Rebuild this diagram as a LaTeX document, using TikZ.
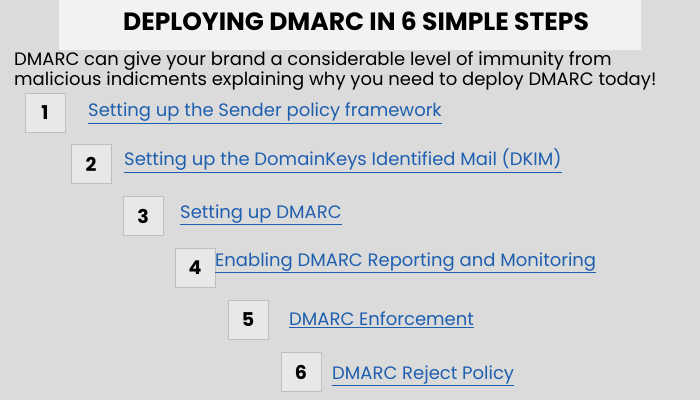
\documentclass[tikz,border=0pt]{standalone}
\usepackage{fontspec}
\setmainfont{Poppins}
\begin{document}
\begin{tikzpicture}[x=1pt,y=-1pt,
  numbox/.style={draw=black!25,fill=black!9,minimum width=40pt,minimum height=39pt,font=\bfseries\fontsize{19}{20}\selectfont,inner sep=0pt},
  link/.style={anchor=west,inner sep=1pt,font=\fontsize{18}{20}\selectfont,execute at begin node={\color{linkblue}\setbox0\hbox\bgroup},execute at end node={\egroup\underline{\box0}}}]
\definecolor{linkblue}{HTML}{1F5FB0}
\fill[black!14] (0,0) rectangle (700,400);
\useasboundingbox (0,0) rectangle (700,400);
\fill[black!5] (59,0) rectangle (641,50);
\node (title) at (356,21) {\bfseries\fontsize{25}{26}\selectfont DEPLOYING DMARC IN 6 SIMPLE STEPS};
\node[anchor=north west,align=left,inner sep=0pt,font=\fontsize{18}{16}\selectfont] (intro) at (14,52)
 {DMARC can give your brand a considerable level of immunity from\\malicious indicments explaining why you need to deploy DMARC today!};
\node[numbox] (b1) at (45,113) {1};
\node[numbox] (b2) at (91,164) {2};
\node[numbox] (b3) at (143,216) {3};
\node[numbox] (b4) at (195,268) {4};
\node[numbox] (b5) at (248,320) {5};
\node[numbox] (b6) at (301,372) {6};
\node[link] (l1) at (87,113) {Setting up the Sender policy framework};
\node[link] (l2) at (123,161) {Setting up the DomainKeys Identified Mail (DKIM)};
\node[link] (l3) at (179,215) {Setting up DMARC};
\node[link] (l4) at (214,263) {Enabling DMARC Reporting and Monitoring};
\node[link] (l5) at (288,320) {DMARC Enforcement};
\node[link] (l6) at (331,376) {DMARC Reject Policy};
\end{tikzpicture}
\end{document}
